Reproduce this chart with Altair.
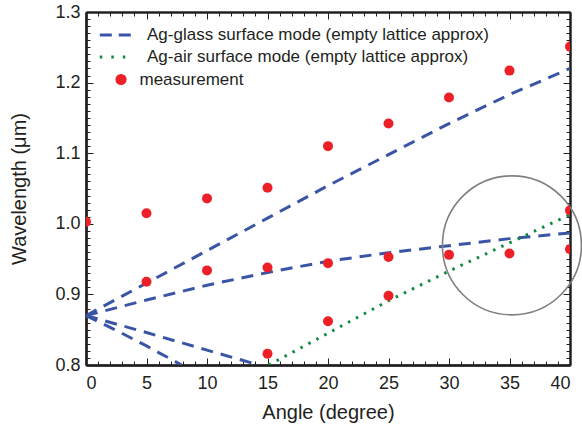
import altair as alt
import pandas as pd

# ---- data ----
GLASS = "Ag-glass surface mode (empty lattice approx)"
AIR = "Ag-air surface mode (empty lattice approx)"
MEAS = "measurement"

glass_upper_angle = [0, 5, 10, 15, 20, 25, 30, 35, 40]
glass_upper_wl = [0.870, 0.916, 0.962, 1.008, 1.054, 1.098, 1.142, 1.183, 1.220]

glass_mid_angle = [0, 5, 10, 15, 20, 25, 30, 35, 40]
glass_mid_wl = [0.870, 0.892, 0.913, 0.931, 0.947, 0.959, 0.969, 0.979, 0.987]

glass_down_angle = [0, 5, 10, 14.3]
glass_down_wl = [0.870, 0.846, 0.821, 0.800]

glass_steep_angle = [0, 2.5, 5, 7.9]
glass_steep_wl = [0.870, 0.849, 0.827, 0.800]

air_angle = [15.1, 20, 25, 30, 35, 40]
air_wl = [0.800, 0.845, 0.891, 0.933, 0.973, 1.013]

meas_angle = [0, 5, 5, 10, 10, 15, 15, 15, 20, 20, 20, 25, 25, 25, 30, 30, 35, 35, 40, 40, 40]
meas_wl = [1.003, 1.015, 0.918, 1.036, 0.934, 1.051, 0.938, 0.816, 1.110, 0.944, 0.862,
           1.142, 0.953, 0.898, 1.179, 0.956, 1.217, 0.958, 1.251, 1.019, 0.964]

circle_angle = [35.2]
circle_wl = [0.9695]

x_major = [0, 5, 10, 15, 20, 25, 30, 35, 40]
x_minor = list(range(0, 41))
y_major = [0.8, 0.9, 1.0, 1.1, 1.2, 1.3]
y_minor = [round(0.8 + 0.01 * i, 2) for i in range(51)]

# ---- tables ----
rows = []
for name, xs, ys in [
    ("upper", glass_upper_angle, glass_upper_wl),
    ("mid", glass_mid_angle, glass_mid_wl),
    ("down", glass_down_angle, glass_down_wl),
    ("steep", glass_steep_angle, glass_steep_wl),
]:
    for i, (a, w) in enumerate(zip(xs, ys)):
        rows.append({"branch": name, "series": GLASS, "angle": a, "wl": w, "order": i})
glass_df = pd.DataFrame(rows)
air_df = pd.DataFrame({"angle": air_angle, "wl": air_wl, "series": AIR,
                       "order": list(range(len(air_angle)))})
meas_df = pd.DataFrame({"angle": meas_angle, "wl": meas_wl, "kind": MEAS})
circle_df = pd.DataFrame({"angle": circle_angle, "wl": circle_wl})

W, H = 484, 353
FONT = "Liberation Sans"
INK = "#231f20"
BLUE = "#3a55a6"
GREEN = "#0f8a3c"
RED = "#ee2027"
GLASS_DASH = [12, 8]
AIR_DASH = [2.5, 6.5]

xscale = alt.Scale(domain=[0, 40], nice=False, zero=False)
yscale = alt.Scale(domain=[0.8, 1.3], nice=False, zero=False)


def tick_axis(orient, offset, values, size):
    # inward ticks: an axis of the opposite side moved onto this edge (labels left empty)
    return alt.Axis(orient=orient, offset=offset, values=values, tickSize=size,
                    labels=True, labelExpr="''", labelOpacity=0,
                    tickColor=INK, domainColor=INK, domainWidth=2, title=None)


def line_legend(y, dash):
    return alt.Legend(title=None, orient="none", legendX=12, legendY=y,
                      labelFont=FONT, labelFontSize=17, labelColor=INK,
                      symbolType="stroke", symbolSize=1050, symbolStrokeWidth=3,
                      symbolDash=dash, labelOffset=13, clipHeight=19,
                      padding=0, labelLimit=500)


# layer 1: Ag-glass model lines, with the labelled axes
glass = alt.Chart(glass_df).mark_line(strokeWidth=3, strokeDash=GLASS_DASH, clip=True).encode(
    x=alt.X("angle:Q", scale=xscale,
            axis=alt.Axis(orient="bottom", values=x_major, ticks=False, grid=False,
                          domainColor=INK, domainWidth=2,
                          labelFont=FONT, labelFontSize=18, labelColor=INK, labelPadding=9,
                          title="Angle (degree)", titleFont=FONT, titleFontSize=20,
                          titleFontWeight="normal", titleColor=INK, titlePadding=10)),
    y=alt.Y("wl:Q", scale=yscale,
            axis=alt.Axis(orient="left", values=y_major, format=".1f", ticks=False, grid=False,
                          domainColor=INK, domainWidth=2,
                          labelFont=FONT, labelFontSize=18, labelColor=INK,
                          labelPadding=6, title="Wavelength (μm)", titleFont=FONT,
                          titleFontSize=20, titleFontWeight="normal", titleColor=INK,
                          titlePadding=25)),
    color=alt.Color("series:N", scale=alt.Scale(domain=[GLASS], range=[BLUE]),
                    legend=line_legend(13.5, [12, 7])),
    detail="branch:N",
    order="order:Q",
)

# layer 2: Ag-air model line (minor inward ticks on bottom and left edges)
air = alt.Chart(air_df).mark_line(strokeWidth=3, strokeDash=AIR_DASH, clip=True).encode(
    x=alt.X("angle:Q", scale=xscale, axis=tick_axis("top", -H, x_minor, 4)),
    y=alt.Y("wl:Q", scale=yscale, axis=tick_axis("right", -W, y_minor, 4)),
    color=alt.Color("series:N", scale=alt.Scale(domain=[AIR], range=[GREEN]),
                    legend=line_legend(35.5, [2.5, 9])),
    order="order:Q",
)

# layer 3: highlight circle (minor inward ticks on top and right edges)
circle = alt.Chart(circle_df).mark_point(shape="circle", size=19321, filled=False,
                                         color="#808080", strokeWidth=1.6, opacity=1,
                                         clip=False).encode(
    x=alt.X("angle:Q", scale=xscale, axis=tick_axis("bottom", -H, x_minor, 4)),
    y=alt.Y("wl:Q", scale=yscale, axis=tick_axis("left", -W, y_minor, 4)),
)

# layer 4: invisible carrier for the major inward ticks on top and right edges
major_b = alt.Chart(circle_df).mark_point(opacity=0).encode(
    x=alt.X("angle:Q", scale=xscale, axis=tick_axis("bottom", -H, x_major, 7)),
    y=alt.Y("wl:Q", scale=yscale, axis=tick_axis("left", -W, y_major, 7)),
)

# layer 5: measurements (major inward ticks on bottom and left edges)
points = alt.Chart(meas_df).mark_circle(size=100, opacity=1, clip=True).encode(
    x=alt.X("angle:Q", scale=xscale, axis=tick_axis("top", -H, x_major, 7)),
    y=alt.Y("wl:Q", scale=yscale, axis=tick_axis("right", -W, y_major, 7)),
    color=alt.Color("kind:N", scale=alt.Scale(domain=[MEAS], range=[RED]),
                    legend=alt.Legend(title=None, orient="none", legendX=26.5, legendY=58,
                                      labelFont=FONT, labelFontSize=17, labelColor=INK,
                                      symbolType="circle", symbolSize=125, labelOffset=10,
                                      clipHeight=19, padding=0, symbolOpacity=1)),
)

chart = alt.layer(glass, air, circle, major_b, points).resolve_axis(
    x="independent", y="independent"
).resolve_scale(color="independent").properties(
    width=W, height=H,
    autosize=alt.AutoSizeParams(type="none"),
    padding={"left": 86, "top": 12, "right": 12, "bottom": 65},
)

chart.save("out.html", embed_options={"renderer": "svg", "actions": False})
